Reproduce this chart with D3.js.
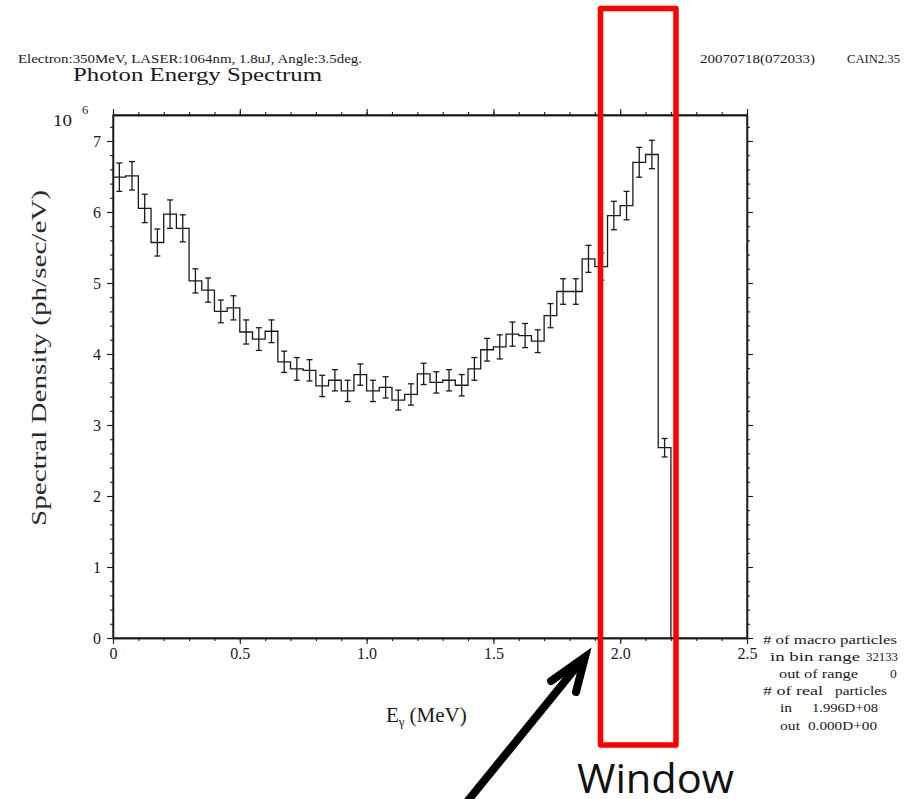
<!DOCTYPE html>
<html><head><meta charset="utf-8">
<script src="https://cdn.jsdelivr.net/npm/d3@7"></script>
<style>body{margin:0;background:#fff} svg{display:block}</style>
</head><body>
<svg id="c" width="912" height="799"></svg>
<script>
// ---------- data ----------
const binLow = [0.00,0.05,0.10,0.15,0.20,0.25,0.30,0.35,0.40,0.45,0.50,0.55,0.60,0.65,0.70,0.75,0.80,0.85,0.90,0.95,1.00,1.05,
                1.10,1.15,1.20,1.25,1.30,1.35,1.40,1.45,1.50,1.55,1.60,1.65,1.70,1.75,1.80,1.85,1.90,1.95,2.00,2.05,2.10,2.15];
const binWidth = 0.05;
const density = [6.49,6.51,6.05,5.57,5.97,5.77,5.03,4.90,4.60,4.65,4.31,4.21,4.32,3.89,3.79,3.77,3.55,3.63,3.48,3.71,3.48,3.53,
                 3.35,3.43,3.72,3.60,3.63,3.56,3.79,4.06,4.10,4.28,4.26,4.18,4.54,4.88,4.88,5.34,5.23,5.95,6.09,6.70,6.81,2.68];
const errors  = [0.20,0.20,0.20,0.19,0.20,0.19,0.17,0.17,0.16,0.17,0.17,0.16,0.16,0.15,0.16,0.15,0.15,0.15,0.15,0.15,0.15,0.15,
                 0.14,0.15,0.15,0.15,0.15,0.15,0.16,0.16,0.17,0.17,0.17,0.16,0.17,0.18,0.18,0.19,0.19,0.20,0.20,0.21,0.20,0.13];
const xMajorTicks = [0,0.5,1.0,1.5,2.0,2.5];
const xTickLabels = ["0","0.5","1.0","1.5","2.0","2.5"];
const yMajorTicks = [0,1,2,3,4,5,6,7];
const yTickLabels = ["0","1","2","3","4","5","6","7"];
const headerLeft = "Electron:350MeV, LASER:1064nm, 1.8uJ, Angle:3.5deg.";
const headerDate = "20070718(072033)";
const headerVer = "CAIN2.35";
const chartTitle = "Photon Energy Spectrum";
const yTitle = "Spectral Density (ph/sec/eV)";
const statsText = ["# of macro particles","in bin range","32133","out of range","0","# of real","particles","in","1.996D+08","out","0.000D+00"];
const windowLabel = "Window";

// ---------- drawing ----------
const svg = d3.select("#c");
const L = 113, R = 747, T = 115, B = 638;
const x = d3.scaleLinear().domain([0, 2.5]).range([L, R]);
const y = d3.scaleLinear().domain([0, 7.366]).range([B, T]);
const ink = "#1a1a1a";
const serif = "'Liberation Serif','Times New Roman',serif";

function styleAxis(g){
  g.select(".domain").attr("stroke", ink).attr("stroke-width", 1.3);
  g.selectAll(".tick line").attr("stroke", ink).attr("stroke-width", 1.1);
}
// minor ticks
const xMinor = x.ticks(25), yMinor = y.ticks(37).filter(v => v <= 7.3);
svg.append("g").attr("transform",`translate(0,${B})`)
  .call(d3.axisBottom(x).tickValues(xMinor).tickSize(3).tickSizeOuter(0).tickFormat("")).call(styleAxis);
svg.append("g").attr("transform",`translate(0,${T})`)
  .call(d3.axisTop(x).tickValues(xMinor).tickSize(3).tickSizeOuter(0).tickFormat("")).call(styleAxis);
svg.append("g").attr("transform",`translate(${L},0)`)
  .call(d3.axisLeft(y).tickValues(yMinor).tickSize(3).tickSizeOuter(0).tickFormat("")).call(styleAxis);
svg.append("g").attr("transform",`translate(${R},0)`)
  .call(d3.axisRight(y).tickValues(yMinor).tickSize(3).tickSizeOuter(0).tickFormat("")).call(styleAxis);
// major ticks + labels
const gxb = svg.append("g").attr("transform",`translate(0,${B})`)
  .call(d3.axisBottom(x).tickValues(xMajorTicks).tickSize(6).tickSizeOuter(0).tickPadding(4)
        .tickFormat((d,i)=>xTickLabels[i])).call(styleAxis);
svg.append("g").attr("transform",`translate(0,${T})`)
  .call(d3.axisTop(x).tickValues(xMajorTicks).tickSize(6).tickSizeOuter(0).tickFormat("")).call(styleAxis);
const gyl = svg.append("g").attr("transform",`translate(${L},0)`)
  .call(d3.axisLeft(y).tickValues(yMajorTicks).tickSize(6).tickSizeOuter(0).tickPadding(6)
        .tickFormat((d,i)=>yTickLabels[i])).call(styleAxis);
svg.append("g").attr("transform",`translate(${R},0)`)
  .call(d3.axisRight(y).tickValues(yMajorTicks).tickSize(6).tickSizeOuter(0).tickFormat("")).call(styleAxis);
[gxb, gyl].forEach(g => g.selectAll("text").attr("font-family", serif).attr("font-size", 16).attr("fill", ink));

// frame
svg.append("rect").attr("x", L).attr("y", T).attr("width", R-L).attr("height", B-T)
  .attr("fill","none").attr("stroke", ink).attr("stroke-width", 1.3);

// histogram step line
const pts = binLow.map((b,i)=>[b, density[i]]);
const lastEdge = binLow[binLow.length-1] + binWidth;
pts.push([lastEdge, density[density.length-1]]);
pts.push([lastEdge, 0]);
svg.append("path").attr("d", d3.line().x(d=>x(d[0])).y(d=>y(d[1])).curve(d3.curveStepAfter)(pts))
  .attr("fill","none").attr("stroke", ink).attr("stroke-width", 1.3);

// error bars
const eb = svg.append("g").attr("stroke", ink).attr("stroke-width", 1.3).attr("fill","none");
binLow.forEach((b,i)=>{
  const cx = x(b + binWidth/2), y1 = y(density[i]-errors[i]), y2 = y(density[i]+errors[i]);
  eb.append("line").attr("x1",cx).attr("x2",cx).attr("y1",y1).attr("y2",y2);
  eb.append("line").attr("x1",cx-3).attr("x2",cx+3).attr("y1",y1).attr("y2",y1);
  eb.append("line").attr("x1",cx-3).attr("x2",cx+3).attr("y1",y2).attr("y2",y2);
});

// texts
function txt(s, px, py, size, len, anchor){
  const t = svg.append("text").attr("x",px).attr("y",py).attr("font-family",serif)
    .attr("font-size",size).attr("fill",ink).text(s);
  if (len) t.attr("textLength",len).attr("lengthAdjust","spacingAndGlyphs");
  if (anchor) t.attr("text-anchor",anchor);
  return t;
}
txt(headerLeft, 18, 63, 12.5, 344);
txt(headerDate, 700, 63, 12.5, 115);
txt(headerVer, 847, 63, 12.5, 53);
txt(chartTitle, 73, 81, 18, 249);
txt("10", 53, 126, 17, 19);
txt("6", 82, 114, 12.5);

// x title with subscript gamma
const xt = svg.append("text").attr("x", 386).attr("y", 722).attr("font-family", serif)
  .attr("font-size", 21).attr("fill", ink);
xt.append("tspan").text("E");
xt.append("tspan").attr("font-size", 13).attr("dy", 4).text("γ");
xt.append("tspan").attr("dy", -4).attr("dx", 5).text("(MeV)");

// y title
svg.append("text").attr("transform","translate(46,358) rotate(-90)").attr("text-anchor","middle")
  .attr("font-family", serif).attr("font-size", 21).attr("fill", "#2a2a2a")
  .attr("textLength", 336).attr("lengthAdjust","spacingAndGlyphs").text(yTitle);

// stats block
const statsPos = [[763,644,134],[770,661,90],[866,661,32],[779,678,79],[890,678,0],[763,695,60],[835,695,52],[780,712,12],[812,712,66],[780,730,20],[808,730,69]];
statsText.forEach((s,i)=>{ const p = statsPos[i]; txt(s, p[0], p[1], 13.5, p[2] || null); });

// annotation overlay: red window and arrow
svg.append("rect").attr("x", 600.5).attr("y", 8.5).attr("width", 75.5).attr("height", 736.5)
  .attr("fill","none").attr("stroke","#ff0000").attr("stroke-width", 5.5).attr("stroke-linejoin","round");
svg.append("text").attr("x", 577).attr("y", 793).attr("font-family","'Open Sans','Noto Sans',sans-serif")
  .attr("font-size", 40).attr("fill","#111").attr("textLength", 157).attr("lengthAdjust","spacingAndGlyphs").text(windowLabel);
svg.append("line").attr("x1", 466).attr("y1", 803).attr("x2", 583).attr("y2", 659)
  .attr("stroke","#000").attr("stroke-width", 8);
svg.append("polyline").attr("points","551,681 585,657 576,692")
  .attr("fill","none").attr("stroke","#000").attr("stroke-width", 8).attr("stroke-linejoin","miter").attr("stroke-linecap","round");
</script>
</body></html>
